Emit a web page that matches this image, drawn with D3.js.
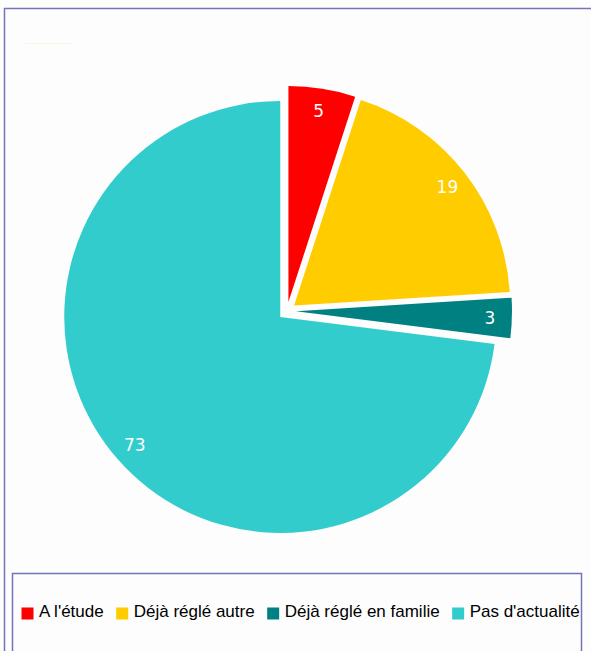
<!DOCTYPE html>
<html lang="fr">
<head>
    <meta charset="UTF-8">
    <title>Pie</title>
    <script src="https://d3js.org/d3.v7.min.js"></script>
    <style>
        body { margin: 0; background: #fdfdfd; }
    </style>
</head>
<body>
    <div id="chart"></div>
    <script>
        var categories = ["A l'étude", "Déjà réglé autre", "Déjà réglé en familie", "Pas d'actualité"];
        var values = [5, 19, 3, 73];
        var colors = ["#ff0000", "#ffcc00", "#008080", "#33cccc"];

        var width = 591;
        var height = 651;
        var radius = 216;
        var explode = 9;
        var cx = 287, cy = 311;

        var svg = d3.select("#chart")
            .append("svg")
            .attr("width", width)
            .attr("height", height)
            .style("display", "block");

        // outer frame
        svg.append("rect")
            .attr("x", 4.5)
            .attr("y", 8.5)
            .attr("width", 700)
            .attr("height", 800)
            .attr("fill", "#fdfdfd")
            .attr("stroke", "#7474b8")
            .attr("stroke-width", 1.5);

        // faint title placeholder
        svg.append("line")
            .attr("x1", 25).attr("x2", 72)
            .attr("y1", 43.5).attr("y2", 43.5)
            .attr("stroke", "#fbf6dc")
            .attr("stroke-width", 1);

        var pie = d3.pie().sort(null).value(function (d) { return d; });
        var arcs = pie(values);

        var arc = d3.arc().innerRadius(0).outerRadius(radius);
        var labelArc = d3.arc().innerRadius(194).outerRadius(194);

        var g = svg.append("g")
            .attr("transform", "translate(" + cx + "," + cy + ")");

        var slice = g.selectAll("g.slice")
            .data(arcs)
            .enter().append("g")
            .attr("class", "slice")
            .attr("transform", function (d) {
                var a = (d.startAngle + d.endAngle) / 2;
                return "translate(" + (explode * Math.sin(a)) + "," + (-explode * Math.cos(a)) + ")";
            });

        slice.append("path")
            .attr("d", arc)
            .attr("fill", function (d, i) { return colors[i]; });

        slice.append("text")
            .attr("transform", function (d) { return "translate(" + labelArc.centroid(d) + ")"; })
            .attr("text-anchor", "middle")
            .attr("dy", "0.36em")
            .style("font-family", "'DejaVu Sans', sans-serif")
            .style("font-size", "17px")
            .attr("fill", "#ffffff")
            .text(function (d) { return d.data; });

        // legend
        svg.append("clipPath")
            .attr("id", "legclip")
            .append("rect")
            .attr("x", 13).attr("y", 574)
            .attr("width", 568).attr("height", 100);

        svg.append("rect")
            .attr("x", 12.5)
            .attr("y", 573.5)
            .attr("width", 569)
            .attr("height", 120)
            .attr("fill", "#fdfdfd")
            .attr("stroke", "#7474b8")
            .attr("stroke-width", 1.5);

        var legend = svg.append("g").attr("clip-path", "url(#legclip)");
        var lx = 21.5;
        categories.forEach(function (c, i) {
            legend.append("rect")
                .attr("x", lx)
                .attr("y", 607.5)
                .attr("width", 12)
                .attr("height", 12)
                .attr("fill", colors[i]);
            var t = legend.append("text")
                .attr("x", lx + 17.5)
                .attr("y", 617)
                .style("font-family", "'Liberation Sans', Arial, sans-serif")
                .style("font-size", "17px")
                .attr("fill", "#000")
                .text(c);
            lx = lx + 17.5 + t.node().getComputedTextLength() + 12.5;
        });
    </script>
</body>
</html>
